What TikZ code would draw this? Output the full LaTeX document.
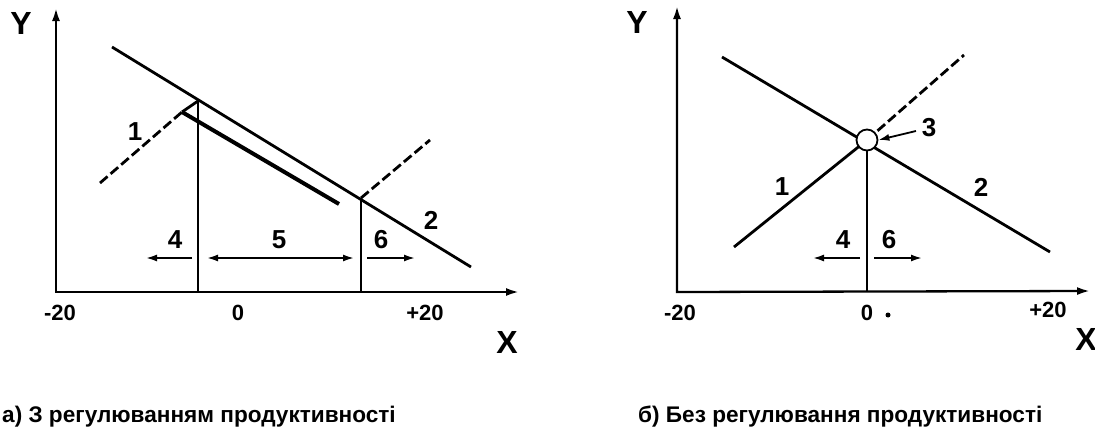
\documentclass[tikz,border=0pt]{standalone}
\usepackage{fontspec}
\setmainfont{Liberation Sans}
\usetikzlibrary{arrows.meta}
\begin{document}
\begin{tikzpicture}[x=1pt,y=-1pt,
  axis/.style={line width=2.3pt,line join=miter,{Latex[length=13pt,width=8pt]}-{Latex[length=13pt,width=8pt]}},
  ln/.style={line width=2.8pt},
  dsh/.style={line width=2.8pt,dash pattern=on 10pt off 4pt},
  thk/.style={line width=4pt},
  vl/.style={line width=1.8pt},
  arr/.style={line width=1.8pt,-{Latex[length=11pt,width=7pt]}},
  darr/.style={line width=1.8pt,{Latex[length=11pt,width=7pt]}-{Latex[length=11pt,width=7pt]}},
  num/.style={font=\fontsize{26}{26}\selectfont\bfseries, inner sep=0pt},
  tick/.style={font=\fontsize{22}{22}\selectfont\bfseries, inner sep=0pt},
  axl/.style={font=\fontsize{32}{32}\selectfont\bfseries, inner sep=0pt},
  capt/.style={font=\fontsize{22.6}{22.6}\selectfont\bfseries, inner sep=0pt, anchor=west},
]
\useasboundingbox (0,0) rectangle (1095,431);
%%%%%%%%%% left panel
\coordinate (LYt) at (56,8);
\coordinate (LO) at (56,292);
\coordinate (LXt) at (519,292);
\draw[axis] (LYt) -- (LO) -- (LXt);
\coordinate (L2a) at (112,47);
\coordinate (L2b) at (471,267);
\draw[ln] (L2a) -- (L2b);
\coordinate (L1a) at (100,183);
\coordinate (L1b) at (182,112);
\coordinate (LP) at (198,101);
\draw[dsh] (L1a) -- (L1b);
\draw[ln] (L1b) -- (LP);
\coordinate (LTe) at (339,204);
\draw[thk] (L1b) -- (LTe);
\coordinate (LPb) at (198,292);
\draw[vl] (LP) -- (LPb);
\coordinate (LQ) at (361,198);
\coordinate (LQb) at (361,292);
\draw[vl] (LQ) -- (LQb);
\coordinate (L1c) at (430,140);
\draw[dsh] (LQ) -- (L1c);
\coordinate (LA4s) at (192,258); \coordinate (LA4e) at (146,258);
\draw[arr] (LA4s) -- (LA4e);
\coordinate (LA5s) at (207,258); \coordinate (LA5e) at (354,258);
\draw[darr] (LA5s) -- (LA5e);
\coordinate (LA6s) at (367,258); \coordinate (LA6e) at (415,258);
\draw[arr] (LA6s) -- (LA6e);
\node[num] (l1) at (135,132) {1};
\node[num] (l2) at (431,220) {2};
\node[num] (l4) at (175,240) {4};
\node[num] (l5) at (279,240) {5};
\node[num] (l6) at (381,240) {6};
\node[tick] (lm20) at (60,313) {-20};
\node[tick] (l0) at (238,313) {0};
\node[tick] (lp20) at (425,313) {+20};
\node[axl] (lY) at (21,23) {Y};
\node[axl] (lX) at (507,342) {X};
\node[capt] (lcap) at (2,417) {а) З регулюванням продуктивності};
%%%%%%%%%% right panel
\coordinate (RYt) at (677,6);
\coordinate (RO) at (677,292);
\coordinate (RXt) at (1090,291);
\draw[axis] (RYt) -- (RO) -- (RXt);
\coordinate (R2a) at (722,57);
\coordinate (R2b) at (1050,252);
\coordinate (R1a) at (734,247);
\coordinate (R1b) at (964,55);
\coordinate (RC) at (867,140);
\draw[ln] (R2a) -- (R2b);
\draw[ln] (R1a) -- (RC);
\draw[dsh] (RC) -- (R1b);
\node[draw,circle,fill=white,line width=1.8pt,minimum size=21pt,inner sep=0pt] (c3) at (RC) {};
\coordinate (RVb) at (867,292);
\draw[vl] (c3.south) -- (RVb);
\node[num] (r3) at (929,128) {3};
\coordinate (RA3s) at (916,131);
\draw[arr] (RA3s) -- (c3.east);
\node[num] (r1) at (782,187) {1};
\node[num] (r2) at (981,187) {2};
\node[num] (r4) at (843,240) {4};
\node[num] (r6) at (889,240) {6};
\coordinate (RA4s) at (860,258); \coordinate (RA4e) at (813,258);
\draw[arr] (RA4s) -- (RA4e);
\coordinate (RA6s) at (874,258); \coordinate (RA6e) at (922,258);
\draw[arr] (RA6s) -- (RA6e);
\node[tick] (rm20) at (680,313) {-20};
\node[tick] (r0) at (867,313) {0};
\fill (888,315) circle (2.5pt);
\node[tick] (rp20) at (1048,310) {+20};
\node[axl] (rY) at (637,22) {Y};
\node[axl] (rX) at (1086,339) {X};
\node[capt] (rcap) at (638,417) {б) Без регулювання продуктивності};
\end{tikzpicture}
\end{document}
